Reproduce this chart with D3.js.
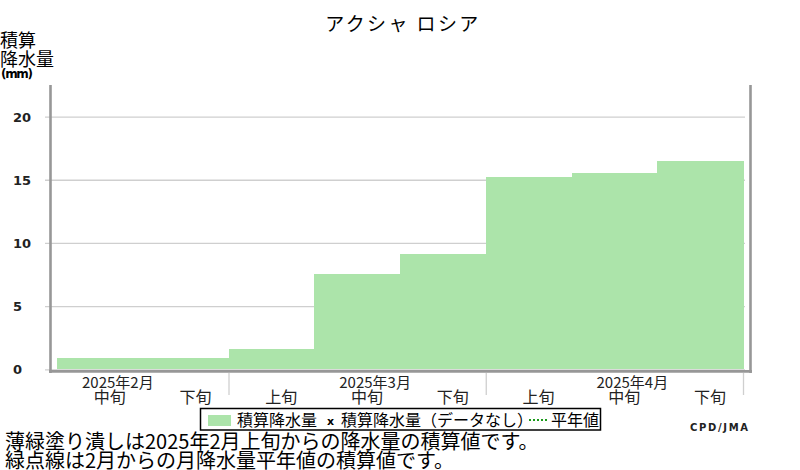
<!DOCTYPE html>
<html>
<head>
<meta charset="utf-8">
<script src="https://cdn.jsdelivr.net/npm/d3@7"></script>
<style>
  body { margin: 0; background: #fff; }
  svg { font-family: "Noto Sans CJK JP", "Noto Sans", sans-serif; }
</style>
</head>
<body>
<svg id="chart" width="800" height="470"></svg>
<script>
// dekads shown on the x axis
const dekadKeys = ["2月中旬", "2月下旬", "3月上旬", "3月中旬", "3月下旬", "4月上旬", "4月中旬", "4月下旬"]
const dekadLabels = ["中旬", "下旬", "上旬", "中旬", "下旬", "上旬", "中旬", "下旬"]
// month label sits on the 中旬 of each month
const monthLabels = ["2025年2月", "2025年3月", "2025年4月"]
const monthAnchors = ["2月中旬", "3月中旬", "4月中旬"]
// month boundaries (first dekad of the next month)
const monthBreaks = ["3月上旬", "4月上旬"]
// accumulated precipitation (mm)
const accumValues = [0.92, 0.92, 1.6, 7.55, 9.15, 15.2, 15.5, 16.5]
const yTicks = [0, 5, 10, 15, 20]

const svg = d3.select("#chart")

const x = d3.scaleBand()
    .domain(dekadKeys)
    .range([57, 743])
    .padding(0)

const y = d3.scaleLinear()
    .domain([0, 22.5])
    .range([369.3, 85])

// grid lines + tick labels
const yAxis = svg.append("g")
    .attr("transform", "translate(45,0)")
    .call(d3.axisLeft(y).tickValues(yTicks).tickSize(-700).tickFormat(d3.format("d")))

yAxis.select(".domain").remove()
yAxis.selectAll(".tick line")
    .attr("stroke", "#cfcfcf")
    .attr("stroke-width", 1.3)
yAxis.selectAll(".tick text")
    .attr("x", 13 - 45)
    .attr("dy", "0.35em")
    .attr("text-anchor", "start")
    .style("font-family", "'DejaVu Sans', sans-serif")
    .style("font-size", "13px")
    .style("font-weight", "bold")
    .style("fill", "#222")

// bars
svg.append("g")
    .attr("shape-rendering", "crispEdges")
    .selectAll("rect")
    .data(accumValues)
    .join("rect")
    .attr("x", (d, i) => x(dekadKeys[i]))
    .attr("width", x.bandwidth() + 0.5)
    .attr("y", d => y(d))
    .attr("height", d => y(0) - y(d))
    .attr("fill", "#ace4aa")

// frame: left, right, bottom
const frame = svg.append("g")
    .attr("stroke", "#979797")
    .attr("stroke-width", 2.6)
frame.append("line").attr("x1", 50.5).attr("x2", 50.5).attr("y1", 85).attr("y2", 373)
frame.append("line").attr("x1", 750.5).attr("x2", 750.5).attr("y1", 85).attr("y2", 373)
frame.append("line").attr("x1", 49).attr("x2", 752).attr("y1", 371.4).attr("y2", 371.4)

// month separators
const seps = monthBreaks.map(k => x(k)).concat([x.range()[1]])
svg.append("g")
    .selectAll("line")
    .data(seps)
    .join("line")
    .attr("x1", d => d + 0.5)
    .attr("x2", d => d + 0.5)
    .attr("y1", 373)
    .attr("y2", 395)
    .attr("stroke", "#cfcfcf")
    .attr("stroke-width", 1.3)

// dekad labels
svg.append("g")
    .selectAll("text")
    .data(dekadLabels)
    .join("text")
    .attr("x", (d, i) => x(dekadKeys[i]) + x.bandwidth() / 2 + 10)
    .attr("y", 403)
    .attr("text-anchor", "middle")
    .style("font-size", "16px")
    .style("fill", "#222")
    .text(d => d)

// month labels
svg.append("g")
    .selectAll("text")
    .data(monthLabels)
    .join("text")
    .attr("x", (d, i) => x(monthAnchors[i]) + x.bandwidth() / 2 + 18)
    .attr("y", 388)
    .attr("text-anchor", "middle")
    .style("font-size", "15px")
    .style("fill", "#222")
    .text(d => d)

// title
svg.append("text")
    .attr("x", 403)
    .attr("y", 31)
    .attr("text-anchor", "middle")
    .style("font-size", "19px")
    .style("letter-spacing", "2.4px")
    .text("アクシャ ロシア")

// y axis title
svg.append("text").attr("x", 0).attr("y", 47).style("font-size", "18px").text("積算")
svg.append("text").attr("x", 0).attr("y", 66).style("font-size", "18px").text("降水量")
svg.append("text").attr("x", 1).attr("y", 78)
    .attr("textLength", 32)
    .style("font-family", "'DejaVu Sans', sans-serif")
    .style("font-size", "12px").style("font-weight", "bold").text("(mm)")

// legend
const legend = svg.append("g")
legend.append("rect")
    .attr("x", 200.5).attr("y", 408.5).attr("width", 400).attr("height", 21.5)
    .attr("fill", "#fff").attr("stroke", "#000").attr("stroke-width", 1.5)
legend.append("rect")
    .attr("x", 208).attr("y", 415).attr("width", 23).attr("height", 11)
    .attr("fill", "#ace4aa")
legend.append("text").attr("x", 237).attr("y", 426).style("font-size", "16px").text("積算降水量")
legend.append("text").attr("x", 327).attr("y", 425)
    .style("font-family", "'DejaVu Sans', sans-serif")
    .style("font-size", "11px").style("font-weight", "bold").text("x")
legend.append("text").attr("x", 341).attr("y", 426).style("font-size", "16px").text("積算降水量（データなし）")
legend.append("line")
    .attr("x1", 529).attr("x2", 547).attr("y1", 420).attr("y2", 420)
    .attr("stroke", "#1a9a1a").attr("stroke-width", 2).attr("stroke-dasharray", "2,2")
legend.append("text").attr("x", 551).attr("y", 426).style("font-size", "16px").text("平年値")

// source
svg.append("text").attr("x", 690).attr("y", 431)
    .attr("textLength", 58)
    .style("font-family", "'DejaVu Sans', sans-serif")
    .style("font-size", "10px").style("font-weight", "bold").style("fill", "#222")
    .text("CPD/JMA")

// notes
svg.append("text").attr("x", 5).attr("y", 449).style("font-size", "20px")
    .text("薄緑塗り潰しは2025年2月上旬からの降水量の積算値です。")
svg.append("text").attr("x", 5).attr("y", 468).style("font-size", "20px")
    .text("緑点線は2月からの月降水量平年値の積算値です。")
</script>
</body>
</html>
